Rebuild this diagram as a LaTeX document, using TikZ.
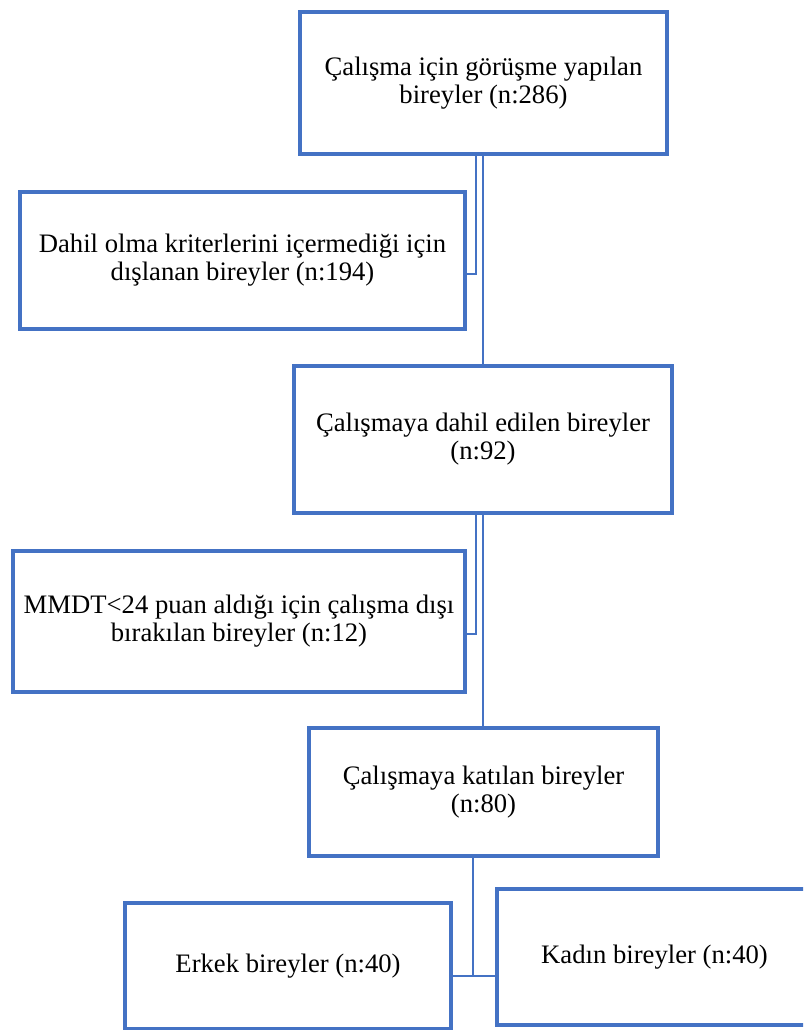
\documentclass[tikz,border=0pt]{standalone}
\usepackage{fontspec}
\setmainfont{Liberation Serif}
\definecolor{mavi}{HTML}{4472C4}
\tikzset{
	kutu/.style={draw=mavi, line width=2.5pt, rectangle, inner sep=0pt, outer sep=0pt, align=center, font=\fontsize{20}{21}\selectfont},
	bag/.style={draw=mavi, line width=1.5pt}
}
\begin{document}
\begin{tikzpicture}[x=0.75pt, y=-0.75pt, line join=miter]
	\def\xa{483} \def\xs{476} \def\xb{473}
	\useasboundingbox (0,0) rectangle (803,1030);
	\clip (0,0) rectangle (803,1030);
	% kutular
	\node[kutu, minimum width=367*0.75pt, minimum height=142*0.75pt] (b1) at (483.5,83) {Çalışma için görüşme yapılan\\bireyler (n:286)};
	\node[kutu, minimum width=445*0.75pt, minimum height=137*0.75pt] (b2) at (242.5,260.5) {Dahil olma kriterlerini içermediği için\\dışlanan bireyler (n:194)};
	\node[kutu, minimum width=378*0.75pt, minimum height=147*0.75pt] (b3) at (483,439.5) {Çalışmaya dahil edilen bireyler\\(n:92)};
	\node[kutu, minimum width=452*0.75pt, minimum height=141*0.75pt] (b4) at (239,621.5) {MMDT<24 puan aldığı için çalışma dışı\\bırakılan bireyler (n:12)};
	\node[kutu, minimum width=349*0.75pt, minimum height=128*0.75pt] (b5) at (483.5,792) {Çalışmaya katılan bireyler\\(n:80)};
	\node[kutu, minimum width=326*0.75pt, minimum height=126*0.75pt] (b6) at (288,966) {Erkek bireyler (n:40)};
	\node[kutu, minimum width=315*0.75pt, minimum height=136*0.75pt] (b7) at (654.5,957) {Kadın bireyler (n:40)};
	% baglantilar
	\draw[bag] (b1.south -| \xa,0) -- (b3.north -| \xa,0);
	\draw[bag] (b1.south -| \xs,0) |- (b2.east |- 0,274);
	\draw[bag] (b3.south -| \xa,0) -- (b5.north -| \xa,0);
	\draw[bag] (b3.south -| \xs,0) |- (b4.east |- 0,634);
	\coordinate (ayr) at (\xb,976);
	\draw[bag] (b5.south -| ayr) -- (ayr);
	\draw[bag] (b6.east |- ayr) -- (b7.west |- ayr);
\end{tikzpicture}
\end{document}
